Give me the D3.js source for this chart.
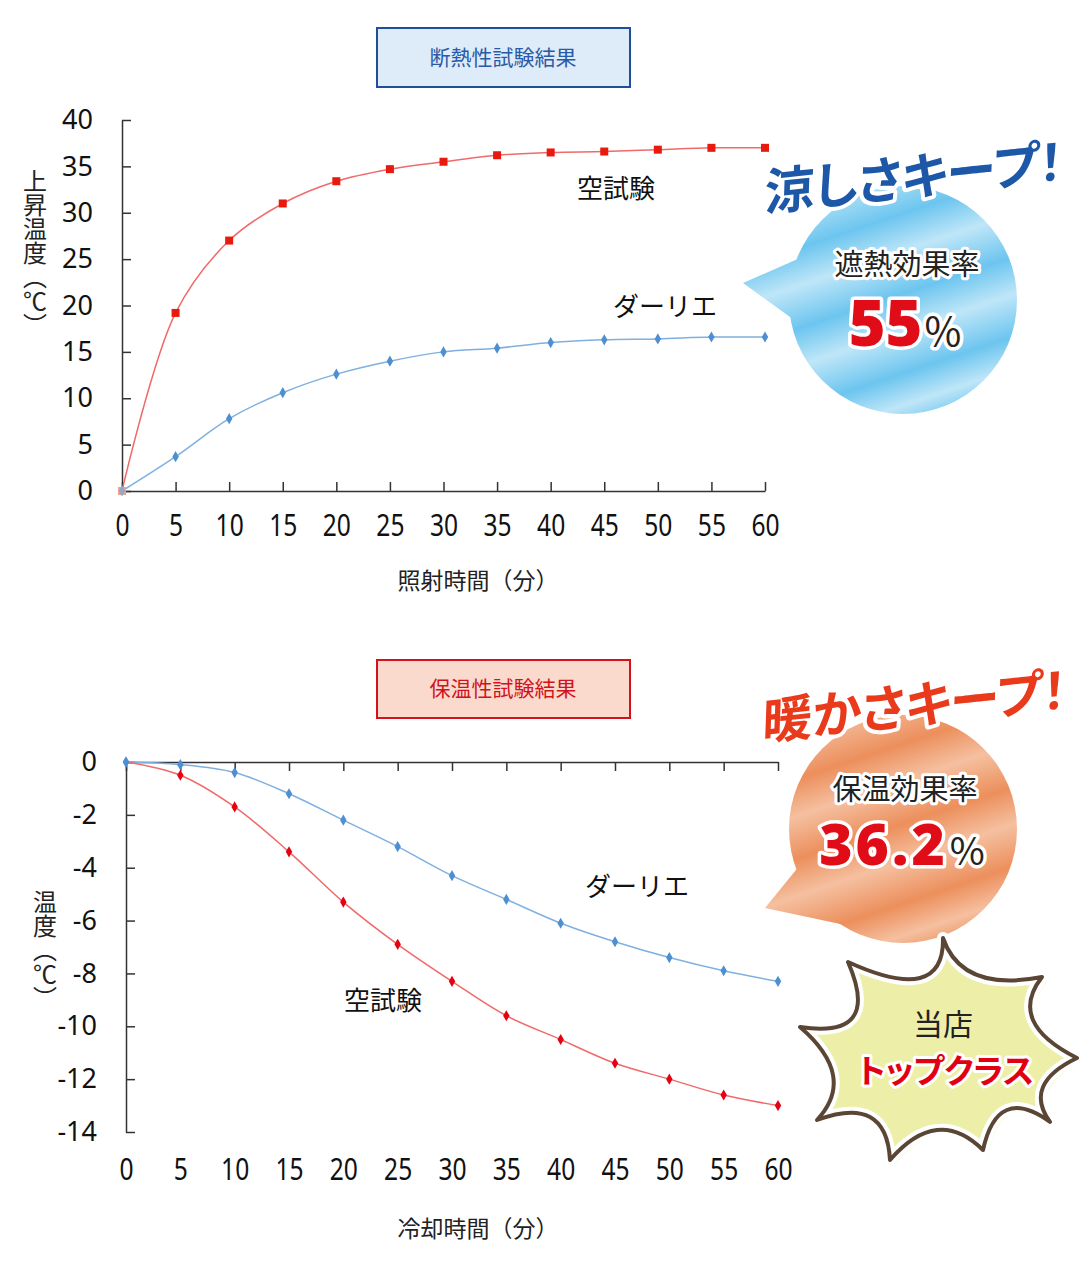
<!DOCTYPE html>
<html>
<head>
<meta charset="utf-8">
<script src="https://cdn.jsdelivr.net/npm/d3@7"></script>
<style>
body { margin: 0; background: #fff; }
text { font-family: "Noto Sans CJK JP", "Noto Sans", sans-serif; }
.tick text { font-family: "Noto Sans", sans-serif; fill: #111; }
.domain, .tick line { stroke: #333; stroke-width: 1.5; }
</style>
</head>
<body>
<svg id="chart" width="1080" height="1280"></svg>
<script>
// data
var minutes = [0, 5, 10, 15, 20, 25, 30, 35, 40, 45, 50, 55, 60];
var heatBlank = [0, 19.2, 27.0, 31.0, 33.4, 34.7, 35.5, 36.2, 36.5, 36.6, 36.8, 37.0, 37.0];
var heatDarie = [0, 3.7, 7.8, 10.6, 12.6, 14.0, 15.0, 15.4, 16.0, 16.3, 16.4, 16.6, 16.6];
var coolBlank = [0, -0.5, -1.7, -3.4, -5.3, -6.9, -8.3, -9.6, -10.5, -11.4, -12.0, -12.6, -13.0];
var coolDarie = [0, -0.1, -0.4, -1.2, -2.2, -3.2, -4.3, -5.2, -6.1, -6.8, -7.4, -7.9, -8.3];
var heatTicks = [0, 5, 10, 15, 20, 25, 30, 35, 40];
var coolTicks = [0, -2, -4, -6, -8, -10, -12, -14];

var red = "#e8190d", redLine = "#f06a6a";
var blue = "#4d8fd1", blueLine = "#7fb0e0";

var svg = d3.select("#chart");
var defs = svg.append("defs");

function pairs(ys) {
	return minutes.map(function(m, i) { return [m, ys[i]]; });
}
// plain hyphen minus like the original, not U+2212
function plain(d) { return String(d); }

// ---------- chart 1 : 断熱性試験結果 ----------
var x1 = d3.scaleLinear().domain([0, 60]).range([122, 765]);
var y1 = d3.scaleLinear().domain([0, 40]).range([491, 120]);

var g1 = svg.append("g");

g1.append("rect")
	.attr("x", 377).attr("y", 28).attr("width", 253).attr("height", 59)
	.attr("fill", "#deebf8").attr("stroke", "#1f4f9a").attr("stroke-width", 2);
g1.append("text")
	.attr("x", 503).attr("y", 65).attr("text-anchor", "middle")
	.attr("font-size", 21).attr("fill", "#2a5aa6")
	.text("断熱性試験結果");

var xAxis1 = g1.append("g")
	.attr("transform", "translate(0,491)")
	.call(d3.axisBottom(x1).tickValues(minutes).tickFormat(plain).tickSize(-9).tickSizeOuter(0).tickPadding(24));
xAxis1.selectAll("text").attr("font-size", 30).attr("transform", "scale(0.82,1)");

var yAxis1 = g1.append("g")
	.attr("transform", "translate(122,0)")
	.call(d3.axisLeft(y1).tickValues(heatTicks).tickFormat(plain).tickSize(-9).tickSizeOuter(0).tickPadding(29));
yAxis1.selectAll("text").attr("font-size", 27);

g1.append("text")
	.attr("x", 35).attr("y", 253)
	.attr("text-anchor", "middle")
	.style("writing-mode", "vertical-rl")
	.attr("font-size", 24).attr("fill", "#222")
	.text("上昇温度（℃）");

g1.append("text")
	.attr("x", 478).attr("y", 589).attr("text-anchor", "middle")
	.attr("font-size", 23).attr("fill", "#222")
	.text("照射時間（分）");

var line1 = d3.line()
	.x(function(d) { return x1(d[0]); })
	.y(function(d) { return y1(d[1]); })
	.curve(d3.curveCatmullRom);

g1.append("path").datum(pairs(heatDarie))
	.attr("d", line1).attr("fill", "none").attr("stroke", blueLine).attr("stroke-width", 1.5);
g1.append("path").datum(pairs(heatBlank))
	.attr("d", line1).attr("fill", "none").attr("stroke", redLine).attr("stroke-width", 1.5);

g1.selectAll(".blank1").data(pairs(heatBlank)).enter()
	.append("rect")
		.attr("x", function(d) { return x1(d[0]) - 4; })
		.attr("y", function(d) { return y1(d[1]) - 4; })
		.attr("width", 8).attr("height", 8)
		.attr("fill", function(d, i) { return i === 0 ? "#f3a08a" : red; });

var diamond = d3.symbol().type(d3.symbolDiamond).size(36);

g1.selectAll(".darie1").data(pairs(heatDarie)).enter()
	.append("path")
		.attr("d", diamond)
		.attr("transform", function(d) { return "translate(" + x1(d[0]) + "," + y1(d[1]) + ")"; })
		.attr("fill", function(d, i) { return i === 0 ? "#8fa9c9" : blue; });

g1.append("text").attr("x", 616).attr("y", 198).attr("text-anchor", "middle")
	.attr("font-size", 26).attr("fill", "#111").text("空試験");
g1.append("text").attr("x", 665).attr("y", 316).attr("text-anchor", "middle")
	.attr("font-size", 26).attr("fill", "#111").text("ダーリエ");

// ---------- chart 2 : 保温性試験結果 ----------
var x2 = d3.scaleLinear().domain([0, 60]).range([126, 778]);
var y2 = d3.scaleLinear().domain([-14, 0]).range([1132, 762]);

var g2 = svg.append("g");

g2.append("rect")
	.attr("x", 377).attr("y", 660).attr("width", 253).attr("height", 58)
	.attr("fill", "#f9dacd").attr("stroke", "#d2121c").attr("stroke-width", 2);
g2.append("text")
	.attr("x", 503).attr("y", 696).attr("text-anchor", "middle")
	.attr("font-size", 21).attr("fill", "#d2121c")
	.text("保温性試験結果");

g2.append("g")
	.attr("transform", "translate(0,762)")
	.call(d3.axisTop(x2).tickValues(minutes).tickSize(-9).tickSizeOuter(0).tickFormat(""));

var xLabels2 = g2.append("g")
	.attr("transform", "translate(0,1132)")
	.call(d3.axisBottom(x2).tickValues(minutes).tickFormat(plain).tickSize(0).tickPadding(27));
xLabels2.select(".domain").remove();
xLabels2.selectAll("text").attr("font-size", 30).attr("transform", "scale(0.82,1)");

var yAxis2 = g2.append("g")
	.attr("transform", "translate(126,0)")
	.call(d3.axisLeft(y2).tickValues(coolTicks).tickFormat(plain).tickSize(-9).tickSizeOuter(0).tickPadding(29));
yAxis2.selectAll("text").attr("font-size", 27);

g2.append("text")
	.attr("x", 45).attr("y", 950)
	.attr("text-anchor", "middle")
	.style("writing-mode", "vertical-rl")
	.attr("font-size", 24).attr("fill", "#222")
	.text("温度（℃）");

g2.append("text")
	.attr("x", 478).attr("y", 1237).attr("text-anchor", "middle")
	.attr("font-size", 23).attr("fill", "#222")
	.text("冷却時間（分）");

var line2 = d3.line()
	.x(function(d) { return x2(d[0]); })
	.y(function(d) { return y2(d[1]); })
	.curve(d3.curveCatmullRom);

g2.append("path").datum(pairs(coolDarie))
	.attr("d", line2).attr("fill", "none").attr("stroke", blueLine).attr("stroke-width", 1.5);
g2.append("path").datum(pairs(coolBlank))
	.attr("d", line2).attr("fill", "none").attr("stroke", redLine).attr("stroke-width", 1.5);

g2.selectAll(".darie2").data(pairs(coolDarie)).enter()
	.append("path")
		.attr("d", diamond)
		.attr("transform", function(d) { return "translate(" + x2(d[0]) + "," + y2(d[1]) + ")"; })
		.attr("fill", blue);
g2.selectAll(".blank2").data(pairs(coolBlank)).enter()
	.append("path")
		.attr("d", diamond)
		.attr("transform", function(d) { return "translate(" + x2(d[0]) + "," + y2(d[1]) + ")"; })
		.attr("fill", function(d, i) { return i === 0 ? blue : "#e50012"; });

g2.append("text").attr("x", 637).attr("y", 896).attr("text-anchor", "middle")
	.attr("font-size", 26).attr("fill", "#111").text("ダーリエ");
g2.append("text").attr("x", 383).attr("y", 1010).attr("text-anchor", "middle")
	.attr("font-size", 26).attr("fill", "#111").text("空試験");

// ---------- callouts ----------
function streakGradient(id, x1p, y1p, x2p, y2p, dark, light) {
	var grad = defs.append("linearGradient").attr("id", id)
		.attr("gradientUnits", "userSpaceOnUse")
		.attr("x1", x1p).attr("y1", y1p).attr("x2", x2p).attr("y2", y2p);
	var stops = [[0, light], [0.18, dark], [0.32, light], [0.48, dark], [0.62, light], [0.78, dark], [0.9, light], [1, dark]];
	stops.forEach(function(s) {
		grad.append("stop").attr("offset", s[0]).attr("stop-color", s[1]);
	});
}
streakGradient("blueGrad", 860, 180, 940, 420, "#6cc5ef", "#bfe6f8");
streakGradient("orangeGrad", 860, 710, 940, 950, "#ec8f5c", "#f5c0a0");

function bubble(cx, cy, r, tail, fill) {
	var g = svg.append("g");
	g.append("path")
		.attr("d", "M" + tail[0] + "L" + tail[1] + "L" + tail[2] + "Z")
		.attr("fill", fill);
	g.append("circle").attr("cx", cx).attr("cy", cy).attr("r", r).attr("fill", fill);
	return g;
}

function outlined(g, x, y, size, weight, color, str, extra) {
	var t = g.append("text")
		.attr("x", x).attr("y", y).attr("text-anchor", "middle")
		.attr("font-size", size).attr("font-weight", weight)
		.attr("fill", color)
		.attr("stroke", "#fff").attr("stroke-width", size > 40 ? 8 : 6)
		.attr("stroke-linejoin", "round")
		.style("paint-order", "stroke")
		.style("font-feature-settings", "'palt'")
		.text(str);
	if (extra) extra(t);
	return t;
}

// blue bubble
var bb = bubble(903, 300, 114, [[743, 283], [800, 258], [808, 330]], "url(#blueGrad)");
outlined(bb, 907, 275, 29, 400, "#222", "遮熱効果率");
var pct1 = bb.append("text").attr("y", 346).attr("text-anchor", "middle")
	.attr("stroke", "#fff").attr("stroke-width", 7).attr("stroke-linejoin", "round")
	.style("paint-order", "stroke");
pct1.append("tspan").attr("x", 905).attr("font-family", "Noto Sans, sans-serif")
	.attr("font-size", 63).attr("font-weight", 900).attr("fill", "#e00d18").text("55");
pct1.append("tspan").attr("font-size", 40).attr("fill", "#222").attr("dx", 2).text("%");

outlined(svg, 0, 0, 50, 700, "#1d58a8", "涼しさキープ！", function(t) {
	t.attr("text-anchor", "start")
		.attr("transform", "translate(764,211) rotate(-6) skewX(-8)");
});

// orange bubble
var ob = bubble(903, 829, 114, [[765, 908], [800, 865], [845, 925]], "url(#orangeGrad)");
outlined(ob, 905, 800, 29, 400, "#222", "保温効果率");
var pct2 = ob.append("text").attr("y", 865).attr("text-anchor", "middle")
	.attr("stroke", "#fff").attr("stroke-width", 7).attr("stroke-linejoin", "round")
	.style("paint-order", "stroke");
pct2.append("tspan").attr("x", 902).attr("font-family", "Noto Sans, sans-serif")
	.attr("font-size", 57).attr("font-weight", 900).attr("letter-spacing", 3)
	.attr("fill", "#e00d18").text("36.2");
pct2.append("tspan").attr("font-size", 38).attr("fill", "#222").attr("dx", 2).text("%");

outlined(svg, 0, 0, 50, 700, "#ea3a1c", "暖かさキープ！", function(t) {
	t.attr("text-anchor", "start")
		.attr("transform", "translate(762,740) rotate(-6) skewX(-8)");
});

// starburst
var spikes = [[943, 938], [1042, 977], [1077, 1058], [1050, 1122], [983, 1150], [890, 1160], [817, 1120], [800, 1027], [848, 962]];
var inner = [[977, 975], [1033, 1020], [1043, 1087], [1007, 1110], [937, 1130], [870, 1117], [833, 1075], [853, 1017], [920, 978]];
var starPath = d3.path();
starPath.moveTo(spikes[0][0], spikes[0][1]);
spikes.forEach(function(p, i) {
	var q = spikes[(i + 1) % spikes.length], m = inner[i];
	var cx = 2 * m[0] - (p[0] + q[0]) / 2, cy = 2 * m[1] - (p[1] + q[1]) / 2;
	starPath.quadraticCurveTo(cx, cy, q[0], q[1]);
});
starPath.closePath();

var sg = svg.append("g");
sg.append("path").attr("d", starPath.toString())
	.attr("transform", "translate(5,4)")
	.attr("fill", "#eef3a6");
sg.append("path").attr("d", starPath.toString())
	.attr("fill", "#edefa9").attr("stroke", "#fff").attr("stroke-width", 12)
	.attr("stroke-linejoin", "round");
sg.append("path").attr("d", starPath.toString())
	.attr("fill", "none").attr("stroke", "#5b4636").attr("stroke-width", 4)
	.attr("stroke-linejoin", "round");
sg.append("text").attr("x", 943).attr("y", 1035).attr("text-anchor", "middle")
	.attr("font-size", 30).attr("fill", "#222").text("当店");
outlined(sg, 946, 1083, 33, 700, "#e00012", "トップクラス");
</script>
</body>
</html>
